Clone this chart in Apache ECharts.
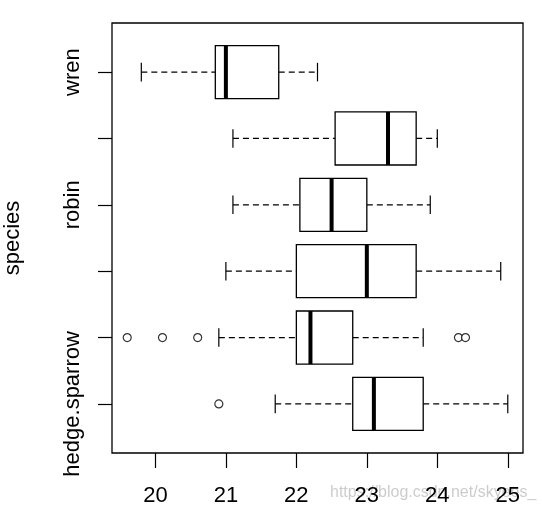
<!DOCTYPE html>
<html>
<head>
<meta charset="utf-8" />
<title>cuckoo eggs</title>
<script src="https://cdn.jsdelivr.net/npm/echarts@6/dist/echarts.min.js"></script>
<style>
  html, body { margin: 0; padding: 0; background: #fff; }
</style>
</head>
<body>
<div id="main" style="width: 542px;height:510px;"></div>
<script type="text/javascript">
// egg length by host species, bottom row first
var species = ['hedge.sparrow', 'meadow.pipit', 'pied.wagtail', 'robin', 'tree.pipit', 'wren'];
var lowWhisker = [21.7, 20.9, 21.0, 21.1, 21.1, 19.8];
var lowerHinge = [22.8, 22.0, 22.0, 22.05, 22.55, 20.85];
var medians = [23.1, 22.2, 23.0, 22.5, 23.3, 21.0];
var upperHinge = [23.8, 22.8, 23.7, 23.0, 23.7, 21.75];
var highWhisker = [25.0, 23.8, 24.9, 23.9, 24.0, 22.3];
// outliers: which species row, and the value
var outlierSpecies = ['hedge.sparrow', 'meadow.pipit', 'meadow.pipit', 'meadow.pipit', 'meadow.pipit', 'meadow.pipit'];
var outlierValues = [20.9, 19.6, 20.1, 20.6, 24.3, 24.4];
// tick labels
var xTicks = [20, 21, 22, 23, 24, 25];
var shownLabels = ['hedge.sparrow', 'robin', 'wren'];

var FONT = 'Arial, "Liberation Sans", sans-serif';

function setBoxChart(chartId) {
	var myChart = echarts.init(document.getElementById(chartId));

	var boxData = species.map(function(s, i) {
		return [i + 1, lowWhisker[i], lowerHinge[i], medians[i], upperHinge[i], highWhisker[i]];
	});
	var outData = outlierValues.map(function(v, i) {
		return [v, species.indexOf(outlierSpecies[i]) + 1];
	});

	// R pads the data range by 4% on each side
	var xMin = 19.6, xMax = 25.0;
	var pad = (xMax - xMin) * 0.04;
	var yPad = 6 * 0.04;

	function renderBox(params, api) {
		var y = api.value(0);
		var lo = api.value(1), q1 = api.value(2), md = api.value(3), q3 = api.value(4), hi = api.value(5);
		var yTop = api.coord([q1, y + 0.4])[1];
		var yBot = api.coord([q1, y - 0.4])[1];
		var yMid = api.coord([q1, y])[1];
		var sTop = api.coord([q1, y + 0.14])[1];
		var sBot = api.coord([q1, y - 0.14])[1];
		var xLo = api.coord([lo, y])[0];
		var xQ1 = api.coord([q1, y])[0];
		var xMd = api.coord([md, y])[0];
		var xQ3 = api.coord([q3, y])[0];
		var xHi = api.coord([hi, y])[0];
		var lineSt = { stroke: '#000', lineWidth: 1.2 };
		var dashSt = { stroke: '#000', lineWidth: 1.2, lineDash: [6, 4] };
		return {
			type: 'group',
			children: [
				{ type: 'line', shape: { x1: xLo, y1: yMid, x2: xQ1, y2: yMid }, style: dashSt },
				{ type: 'line', shape: { x1: xQ3, y1: yMid, x2: xHi, y2: yMid }, style: dashSt },
				{ type: 'line', shape: { x1: xLo, y1: sTop, x2: xLo, y2: sBot }, style: lineSt },
				{ type: 'line', shape: { x1: xHi, y1: sTop, x2: xHi, y2: sBot }, style: lineSt },
				{ type: 'rect', shape: { x: xQ1, y: yTop, width: xQ3 - xQ1, height: yBot - yTop },
					style: { fill: '#fff', stroke: '#000', lineWidth: 1.3 } },
				{ type: 'line', shape: { x1: xMd, y1: yTop, x2: xMd, y2: yBot },
					style: { stroke: '#000', lineWidth: 4 } }
			]
		};
	}

	var option = {
		animation: false,
		backgroundColor: '#fff',
		grid: {
			left: 112, right: 19, top: 23, bottom: 57,
			outerBoundsMode: 'none',
			containLabel: false,
			show: true, borderColor: '#000', borderWidth: 1.3, backgroundColor: 'transparent'
		},
		xAxis: {
			type: 'value',
			min: xMin - pad,
			max: xMax + pad,
			splitLine: { show: false },
			axisLine: { show: false },
			axisTick: {
				show: true, length: 15, inside: false,
				customValues: xTicks,
				lineStyle: { color: '#000', width: 1.2 }
			},
			axisLabel: {
				customValues: xTicks,
				margin: 32,
				color: '#000',
				fontSize: 22,
				fontFamily: FONT
			}
		},
		yAxis: {
			type: 'value',
			min: 1 - 0.5 - yPad,
			max: 6 + 0.5 + yPad,
			name: 'species',
			nameLocation: 'middle',
			nameGap: 88,
			nameRotate: 90,
			nameTextStyle: { color: '#000', fontSize: 22, fontFamily: FONT },
			splitLine: { show: false },
			axisLine: { show: false },
			axisTick: {
				show: true, length: 14, inside: false,
				customValues: species.map(function(s, i) { return i + 1; }),
				lineStyle: { color: '#000', width: 1.2 }
			},
			axisLabel: {
				customValues: shownLabels.map(function(s) { return species.indexOf(s) + 1; }),
				rotate: 90,
				margin: 28,
				color: '#000',
				fontSize: 22,
				fontFamily: FONT,
				formatter: function(v) { return species[Math.round(v) - 1]; }
			}
		},
		series: [{
			type: 'custom',
			renderItem: renderBox,
			encode: { x: [1, 2, 3, 4, 5], y: 0 },
			data: boxData,
			z: 2
		}, {
			type: 'scatter',
			symbol: 'circle',
			symbolSize: 8,
			itemStyle: { color: '#fff', borderColor: '#000', borderWidth: 1.2 },
			data: outData,
			z: 3
		}],
		graphic: [{
			type: 'text',
			left: 330,
			top: 485,
			silent: true,
			style: {
				text: 'https://blog.csdn.net/skyees_',
				fill: 'rgba(170,170,170,0.6)',
				fontSize: 16,
				fontFamily: FONT
			}
		}]
	};

	myChart.setOption(option);
	return myChart;
}
setBoxChart('main');
</script>
</body>
</html>
